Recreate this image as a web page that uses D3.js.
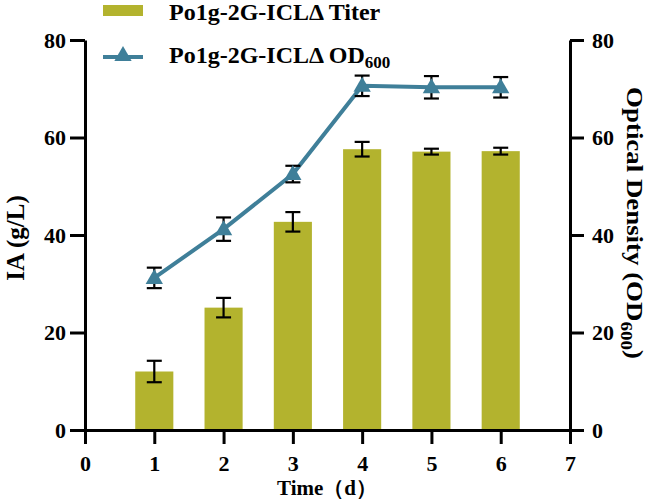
<!DOCTYPE html>
<html><head><meta charset="utf-8">
<script src="https://cdn.jsdelivr.net/npm/d3@7"></script>
<style>body{margin:0;background:#fff}svg{display:block}</style>
</head><body>
<svg id="c" width="651" height="499"></svg>
<script>
const days = [1, 2, 3, 4, 5, 6];
const titer = [12.0, 25.1, 42.7, 57.6, 57.1, 57.2];
const titerErr = [2.2, 2.0, 2.0, 1.5, 0.6, 0.7];
const od = [31.2, 41.2, 52.5, 70.6, 70.3, 70.3];
const odErr = [2.1, 2.4, 1.7, 2.1, 2.3, 2.1];
const xTicks = [0, 1, 2, 3, 4, 5, 6, 7];
const yTicks = [0, 20, 40, 60, 80];
const seriesNames = ["Po1g-2G-ICLΔ Titer", "Po1g-2G-ICLΔ OD"];

const barColor = "#b3b32e", lineColor = "#3f7f99";
const font = "'Liberation Serif','Times New Roman',serif";
const svg = d3.select("#c");
const x = d3.scaleLinear().domain([0, 7]).range([85, 570]);
const yL = d3.scaleLinear().domain([0, 80]).range([430, 40]);
const yR = d3.scaleLinear().domain([0, 80]).range([430, 40]);
const bw = x(0.55) - x(0);

// bars
svg.append("g").selectAll("rect").data(days).join("rect")
  .attr("x", (d) => x(d) - bw / 2).attr("width", bw)
  .attr("y", (d, i) => yL(titer[i])).attr("height", (d, i) => yL(0) - yL(titer[i]))
  .attr("fill", barColor);

function errBars(vals, errs, y) {
  const g = svg.append("g").attr("stroke", "#000").attr("stroke-width", 2.2).attr("fill", "none");
  days.forEach((d, i) => {
    const cx = x(d), t = y(vals[i] + errs[i]), b = y(vals[i] - errs[i]), w = 7.5;
    g.append("line").attr("x1", cx).attr("x2", cx).attr("y1", t).attr("y2", b);
    g.append("line").attr("x1", cx - w).attr("x2", cx + w).attr("y1", t).attr("y2", t);
    g.append("line").attr("x1", cx - w).attr("x2", cx + w).attr("y1", b).attr("y2", b);
  });
}
errBars(titer, titerErr, yL);

// line
svg.append("path").datum(days)
  .attr("d", d3.line().x((d) => x(d)).y((d, i) => yR(od[i])))
  .attr("fill", "none").attr("stroke", lineColor).attr("stroke-width", 4);
errBars(od, odErr, yR);
const tri = d3.symbol().type(d3.symbolTriangle).size(130);
svg.append("g").selectAll("path").data(days).join("path")
  .attr("d", tri).attr("transform", (d, i) => `translate(${x(d)},${yR(od[i]) + 1})`)
  .attr("fill", lineColor);

// axes
function styleAxis(g) {
  g.selectAll("path.domain").attr("stroke-width", 3).attr("stroke", "#000");
  g.selectAll(".tick line").attr("stroke-width", 3).attr("stroke", "#000");
  g.selectAll("text").attr("font-family", font).attr("font-weight", "bold")
    .attr("font-size", 22).attr("fill", "#000");
}
svg.append("g").attr("transform", "translate(0,430)")
  .call(d3.axisBottom(x).tickValues(xTicks).tickSize(14).tickSizeOuter(0).tickPadding(11).tickFormat(d3.format("d")))
  .call(styleAxis);
svg.append("g").attr("transform", "translate(85,0)")
  .call(d3.axisLeft(yL).tickValues(yTicks).tickSize(15).tickSizeOuter(0).tickPadding(4))
  .call(styleAxis);
svg.append("g").attr("transform", "translate(570,0)")
  .call(d3.axisRight(yR).tickValues(yTicks).tickSize(14).tickSizeOuter(0).tickPadding(8))
  .call(styleAxis);

// titles
svg.append("text").attr("x", 327).attr("y", 495).attr("text-anchor", "middle")
  .attr("font-family", font).attr("font-weight", "bold").attr("font-size", 21).text("Time（d）");
svg.append("text").attr("transform", "translate(24,238) rotate(-90)").attr("text-anchor", "middle")
  .attr("font-family", font).attr("font-weight", "bold").attr("font-size", 25).text("IA (g/L)");
const rt = svg.append("text").attr("transform", "translate(627,223) rotate(90) scale(1.12,1)").attr("text-anchor", "middle")
  .attr("font-family", font).attr("font-weight", "bold").attr("font-size", 24);
rt.append("tspan").text("Optical Density (OD");
rt.append("tspan").attr("font-size", 17).attr("dy", 6).text("600");
rt.append("tspan").attr("dy", -6).text(")");

// legend
const lg = svg.append("g");
lg.append("rect").attr("x", 103).attr("y", 5).attr("width", 40).attr("height", 11).attr("fill", barColor);
lg.append("text").attr("x", 169).attr("y", 20).attr("font-family", font).attr("font-weight", "bold")
  .attr("font-size", 24).text(seriesNames[0]);
lg.append("line").attr("x1", 103).attr("x2", 143).attr("y1", 57).attr("y2", 57)
  .attr("stroke", lineColor).attr("stroke-width", 4);
lg.append("path").attr("d", tri).attr("transform", "translate(123,56)").attr("fill", lineColor);
const l2 = lg.append("text").attr("x", 169).attr("y", 63).attr("font-family", font).attr("font-weight", "bold")
  .attr("font-size", 24);
l2.append("tspan").text(seriesNames[1]);
l2.append("tspan").attr("font-size", 17).attr("dy", 5).text("600");
</script>
</body></html>
